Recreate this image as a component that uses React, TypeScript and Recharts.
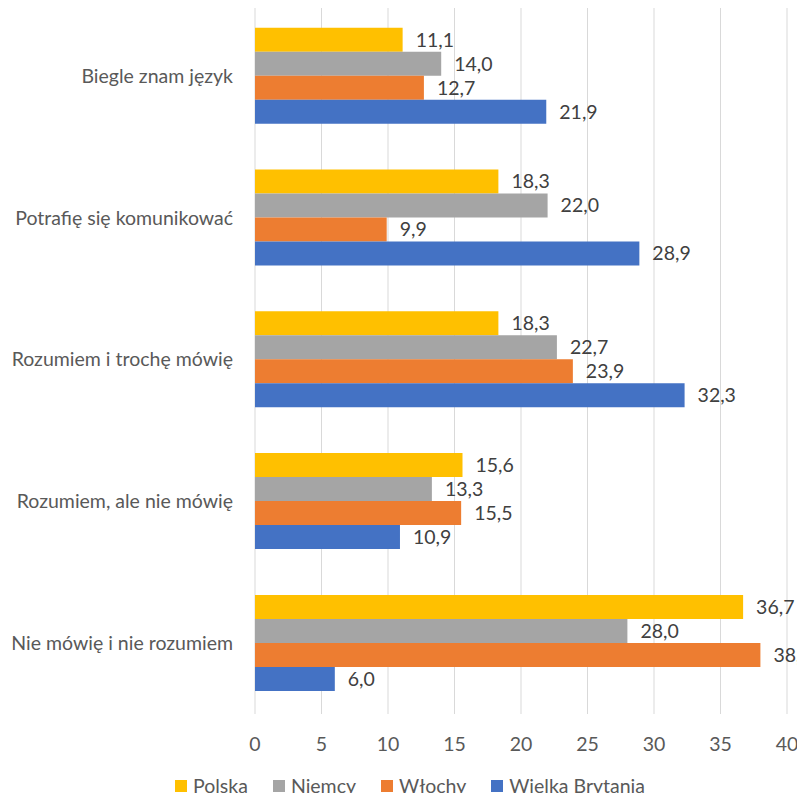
import React from 'react';
import { BarChart, Bar, XAxis, YAxis, CartesianGrid, Legend, LabelList } from 'recharts';

const categories = [
  'Biegle znam język',
  'Potrafię się komunikować',
  'Rozumiem i trochę mówię',
  'Rozumiem, ale nie mówię',
  'Nie mówię i nie rozumiem',
];
const polska = [11.1, 18.3, 18.3, 15.6, 36.7];
const niemcy = [14.0, 22.0, 22.7, 13.3, 28.0];
const wlochy = [12.7, 9.9, 23.9, 15.5, 38.0];
const wielkaBrytania = [21.9, 28.9, 32.3, 10.9, 6.0];
const xTicks = [0, 5, 10, 15, 20, 25, 30, 35, 40];

const series = [
  { key: 'polska', name: 'Polska', color: '#FFC000' },
  { key: 'niemcy', name: 'Niemcy', color: '#A5A5A5' },
  { key: 'wlochy', name: 'Włochy', color: '#ED7D31' },
  { key: 'wb', name: 'Wielka Brytania', color: '#4472C4' },
];

const data = categories.map((name, i) => ({
  name,
  polska: polska[i],
  niemcy: niemcy[i],
  wlochy: wlochy[i],
  wb: wielkaBrytania[i],
}));

const FONT = 'Lato, "Liberation Sans", sans-serif';
const fmt = (v: any) => Number(v).toFixed(1).replace('.', ',');

// legend in series order (recharts sorts by name otherwise)
const renderLegend = () => (
  <div
    style={{
      display: 'flex',
      justifyContent: 'center',
      alignItems: 'center',
      height: 22,
      fontFamily: FONT,
      fontSize: 19.5,
      lineHeight: '22px',
      color: '#595959',
    }}
  >
    {series.map((s, i) => (
      <div key={s.key} style={{ display: 'flex', alignItems: 'center', marginLeft: i ? 25 : 0 }}>
        <span style={{ display: 'inline-block', width: 12, height: 12, background: s.color, marginRight: 6 }} />
        <span>{s.name}</span>
      </div>
    ))}
  </div>
);

const App: React.FC = () => {
  return (
    <div style={{ margin: -8, width: 805, height: 801, overflow: 'hidden', background: '#fff' }}>
      <BarChart
        width={904}
        height={801}
        data={data}
        layout="vertical"
        margin={{ top: 5, right: 117, bottom: 4, left: 0 }}
        barCategoryGap="16%"
        barGap={0}
        style={{ fontFamily: FONT }}
      >
        <CartesianGrid horizontal={false} stroke="#D9D9D9" />
        <XAxis
          type="number"
          domain={[0, 40]}
          ticks={xTicks}
          axisLine={false}
          tickLine={false}
          tickSize={0}
          tickMargin={23}
          height={61}
          tick={{ fill: '#595959', fontSize: 19.5 }}
        />
        <YAxis
          type="category"
          dataKey="name"
          width={255}
          axisLine={false}
          tickLine={false}
          tickSize={0}
          tickMargin={22}
          tick={{ fill: '#595959', fontSize: 19.5 }}
        />
        <Legend
          verticalAlign="bottom"
          width={820}
          height={22}
          wrapperStyle={{ left: 0 }}
          content={renderLegend}
        />
        {series.map(s => (
          <Bar key={s.key} dataKey={s.key} name={s.name} fill={s.color} isAnimationActive={false}>
            <LabelList dataKey={s.key} position="right" offset={13} formatter={fmt} fill="#404040" fontSize={19.5} />
          </Bar>
        ))}
      </BarChart>
    </div>
  );
};

export default App;
